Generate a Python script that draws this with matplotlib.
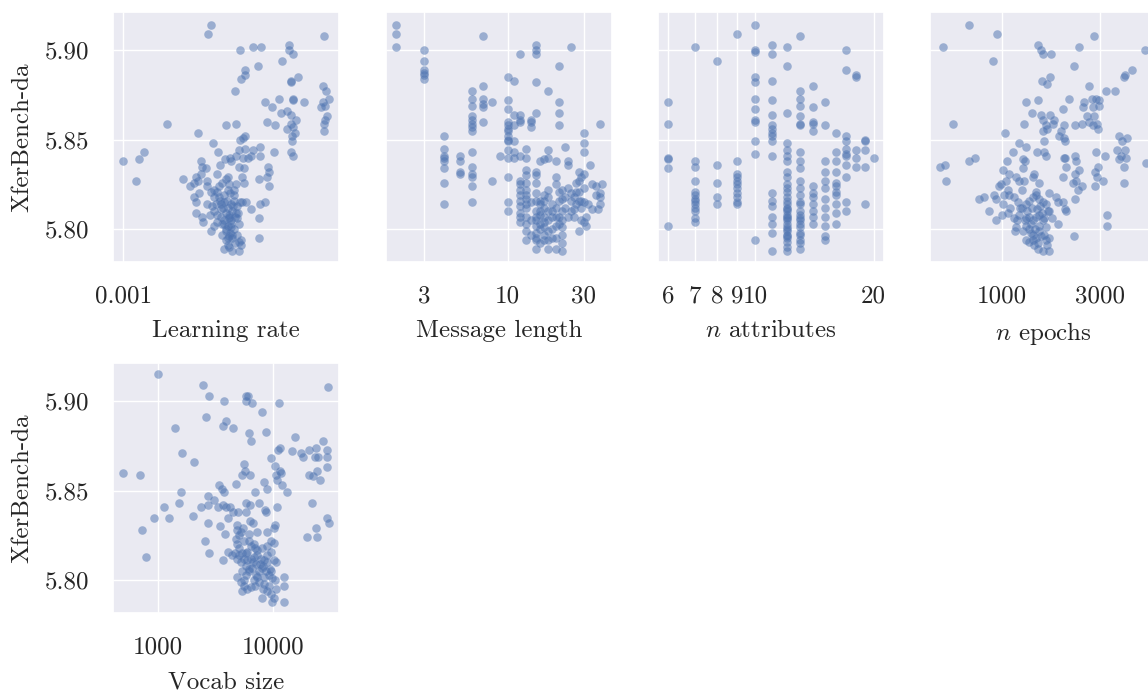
import matplotlib
matplotlib.use("Agg")
import matplotlib.pyplot as plt
import seaborn as sns

# hyperparameter sweep vs XferBench-da score

# learning rate panel
lr = [2.00e-3, 1.96e-3, 4.88e-3, 2.78e-3, 2.96e-3, 3.71e-3, 2.52e-3, 3.71e-3, 3.83e-3, 3.51e-3,
      2.90e-3, 2.62e-3, 2.62e-3, 2.54e-3, 3.98e-3, 3.75e-3, 3.75e-3, 2.41e-3, 3.41e-3, 3.83e-3,
      3.83e-3, 3.07e-3, 3.24e-3, 4.17e-3, 4.84e-3, 4.98e-3, 5.07e-3, 4.84e-3, 4.92e-3, 4.78e-3,
      5.00e-3, 4.91e-3, 4.88e-3, 4.88e-3, 3.49e-3, 3.65e-3, 3.75e-3, 3.91e-3, 3.75e-3, 3.83e-3,
      3.65e-3, 3.88e-3, 3.80e-3, 3.80e-3, 3.75e-3, 3.83e-3, 3.12e-3, 3.31e-3, 1.41e-3, 2.26e-3,
      2.44e-3, 1.81e-3, 2.03e-3, 2.51e-3, 2.62e-3, 2.58e-3, 2.62e-3, 2.50e-3, 2.78e-3, 2.95e-3,
      3.28e-3, 2.95e-3, 2.74e-3, 2.67e-3, 2.58e-3, 2.43e-3, 2.32e-3, 2.24e-3, 2.12e-3, 1.85e-3,
      2.14e-3, 2.34e-3, 1.00e-3, 1.13e-3, 1.18e-3, 1.11e-3, 1.60e-3, 1.69e-3, 1.77e-3, 1.75e-3,
      1.87e-3, 1.92e-3, 1.85e-3, 1.80e-3, 1.94e-3, 2.09e-3, 2.28e-3, 2.56e-3, 2.60e-3, 2.49e-3,
      2.60e-3, 2.92e-3, 3.14e-3, 3.16e-3, 3.12e-3, 3.17e-3, 1.75e-3, 1.78e-3, 1.82e-3, 1.94e-3,
      1.94e-3, 2.00e-3, 2.05e-3, 2.10e-3, 2.13e-3, 2.19e-3, 2.25e-3, 2.31e-3, 2.43e-3, 2.40e-3,
      2.32e-3, 2.22e-3, 2.13e-3, 2.08e-3, 2.02e-3, 2.16e-3, 2.22e-3, 2.28e-3, 2.34e-3, 2.40e-3,
      2.46e-3, 2.56e-3, 2.63e-3, 2.74e-3, 2.95e-3, 3.06e-3, 1.77e-3, 1.87e-3, 1.88e-3, 2.00e-3,
      2.05e-3, 2.10e-3, 2.16e-3, 2.22e-3, 2.28e-3, 2.34e-3, 2.41e-3, 2.49e-3, 2.25e-3, 2.31e-3,
      2.37e-3, 2.46e-3, 2.53e-3, 2.25e-3, 2.28e-3, 2.22e-3, 2.37e-3, 2.50e-3, 2.53e-3, 2.49e-3,
      2.92e-3, 2.92e-3, 2.05e-3, 2.10e-3, 2.16e-3, 2.25e-3, 2.31e-3, 2.37e-3, 2.43e-3, 2.22e-3,
      2.31e-3, 2.34e-3, 2.19e-3, 2.28e-3,
      2.20e-3, 2.30e-3, 2.35e-3, 2.40e-3, 2.45e-3, 2.27e-3, 2.38e-3, 2.33e-3, 2.42e-3, 2.30e-3,
      2.18e-3, 2.26e-3, 2.36e-3, 2.48e-3, 2.52e-3, 2.15e-3, 2.05e-3, 1.98e-3, 2.40e-3, 2.29e-3]
lr_score = [5.914, 5.909, 5.908, 5.902, 5.902, 5.903, 5.900, 5.900, 5.898, 5.894,
            5.891, 5.889, 5.886, 5.884, 5.885, 5.882, 5.883, 5.877, 5.873, 5.873,
            5.872, 5.871, 5.868, 5.871, 5.880, 5.877, 5.873, 5.871, 5.869, 5.868,
            5.863, 5.861, 5.859, 5.855, 5.865, 5.866, 5.864, 5.861, 5.859, 5.857,
            5.856, 5.854, 5.852, 5.849, 5.843, 5.841, 5.860, 5.858, 5.859, 5.858,
            5.859, 5.854, 5.848, 5.850, 5.852, 5.851, 5.845, 5.844, 5.844, 5.846,
            5.843, 5.841, 5.841, 5.840, 5.840, 5.841, 5.840, 5.839, 5.843, 5.838,
            5.836, 5.838, 5.838, 5.839, 5.843, 5.827, 5.828, 5.824, 5.829, 5.826,
            5.835, 5.834, 5.831, 5.827, 5.827, 5.831, 5.829, 5.829, 5.826, 5.835,
            5.834, 5.828, 5.835, 5.832, 5.829, 5.824, 5.818, 5.815, 5.820, 5.814,
            5.824, 5.821, 5.822, 5.821, 5.824, 5.826, 5.828, 5.825, 5.825, 5.819,
            5.820, 5.819, 5.818, 5.814, 5.813, 5.814, 5.815, 5.812, 5.814, 5.816,
            5.813, 5.815, 5.815, 5.811, 5.814, 5.815, 5.809, 5.807, 5.804, 5.799,
            5.802, 5.804, 5.807, 5.805, 5.802, 5.805, 5.807, 5.803, 5.799, 5.796,
            5.797, 5.797, 5.794, 5.794, 5.791, 5.789, 5.788, 5.788, 5.791, 5.793,
            5.806, 5.795, 5.810, 5.808, 5.811, 5.809, 5.808, 5.810, 5.809, 5.803,
            5.807, 5.801, 5.797, 5.795,
            5.812, 5.806, 5.803, 5.800, 5.806, 5.816, 5.813, 5.798, 5.792, 5.790,
            5.803, 5.800, 5.795, 5.809, 5.815, 5.816, 5.818, 5.808, 5.822, 5.822]

# message length panel
msg_len = [2, 2, 2,
           3, 3, 3, 3, 3, 3,
           4, 4, 4, 4, 4, 4, 4, 4,
           5, 5, 5, 5,
           6, 6, 6, 6, 6, 6, 6, 6, 6, 6, 6, 6, 6, 6,
           7, 7, 7, 7, 7, 7,
           8, 8,
           9,
           10, 10, 10, 10, 10, 10, 10, 10, 10, 10, 10, 10, 10, 10, 10,
           11, 11, 11, 11, 11, 11,
           12, 12, 12, 12, 12, 12, 12, 12, 12, 12, 12, 12, 12, 12,
           13, 13, 13, 13, 13, 13, 13, 13, 13, 13, 13, 13,
           14, 14, 14,
           15, 15, 15, 15, 15, 15, 15, 15, 15, 15, 15, 15, 15, 15, 15, 15, 15, 15,
           16, 16, 16, 16, 16,
           17, 17, 17, 17, 17, 17, 17,
           18, 18, 18, 18, 18, 18, 18, 18, 18, 18,
           19, 19, 19,
           20, 20, 20, 20, 20, 20, 20, 20,
           21, 21, 21, 21, 21, 21, 21, 21,
           22, 22, 22, 22, 22, 22, 22, 22,
           23, 23, 23,
           24, 24, 24, 24,
           25, 25, 25, 25,
           26, 26, 26,
           27, 27, 27,
           28, 28, 28, 28, 28,
           29, 29, 29, 29,
           30, 30, 30, 30, 30, 30, 30,
           31, 31,
           32,
           33,
           34, 34,
           36, 36,
           37,
           38, 38, 38, 38,
           39,
           13, 13, 14, 14, 14, 16, 16, 16, 17, 17, 19, 19]
msg_score = [5.914, 5.909, 5.902,
             5.900, 5.894, 5.889, 5.887, 5.886, 5.884,
             5.852, 5.845, 5.841, 5.840, 5.838, 5.834, 5.826, 5.814,
             5.841, 5.838, 5.832, 5.831,
             5.877, 5.873, 5.869, 5.863, 5.861, 5.859, 5.857, 5.855, 5.843, 5.835, 5.831, 5.829, 5.824, 5.815,
             5.908, 5.880, 5.873, 5.870, 5.868, 5.860,
             5.871, 5.827,
             5.841,
             5.885, 5.872, 5.867, 5.860, 5.858, 5.856, 5.855, 5.852, 5.850, 5.849, 5.844, 5.840, 5.829, 5.815, 5.810,
             5.883, 5.864, 5.858, 5.849, 5.843, 5.840,
             5.898, 5.864, 5.861, 5.860, 5.841, 5.827, 5.825, 5.822, 5.819, 5.816, 5.813, 5.809, 5.807, 5.804,
             5.845, 5.840, 5.833, 5.826, 5.822, 5.819, 5.814, 5.812, 5.807, 5.803, 5.799, 5.794,
             5.861, 5.860, 5.857,
             5.903, 5.900, 5.898, 5.882, 5.865, 5.832, 5.830, 5.826, 5.820, 5.816, 5.810, 5.807, 5.805, 5.802, 5.798, 5.795, 5.794, 5.789,
             5.838, 5.816, 5.814, 5.808, 5.803,
             5.839, 5.819, 5.812, 5.807, 5.801, 5.797, 5.794,
             5.877, 5.844, 5.840, 5.822, 5.818, 5.810, 5.805, 5.799, 5.794, 5.789,
             5.814, 5.810, 5.807,
             5.838, 5.829, 5.825, 5.812, 5.807, 5.802, 5.795, 5.789,
             5.891, 5.871, 5.865, 5.858, 5.821, 5.816, 5.807, 5.803,
             5.822, 5.817, 5.810, 5.805, 5.801, 5.797, 5.792, 5.788,
             5.846, 5.818, 5.812,
             5.838, 5.836, 5.823, 5.807,
             5.902, 5.820, 5.816, 5.810,
             5.818, 5.811, 5.807,
             5.826, 5.821, 5.814,
             5.832, 5.827, 5.821, 5.816, 5.799,
             5.829, 5.816, 5.812, 5.805,
             5.854, 5.848, 5.843, 5.831, 5.823, 5.815, 5.804,
             5.807, 5.802,
             5.814,
             5.836,
             5.825, 5.811,
             5.824, 5.819,
             5.811,
             5.859, 5.820, 5.818, 5.814,
             5.825,
             5.830, 5.817, 5.815, 5.805, 5.797, 5.810, 5.800, 5.792, 5.816, 5.804, 5.800, 5.795]

# number of attributes panel
n_attr = [6, 6, 6, 6, 6, 6,
          7, 7, 7, 7, 7, 7, 7, 7, 7, 7, 7, 7, 7,
          8, 8, 8, 8, 8,
          9, 9, 9, 9, 9, 9, 9, 9, 9, 9, 9,
          10, 10, 10, 10, 10, 10, 10, 10, 10, 10, 10, 10,
          11, 11, 11, 11, 11, 11, 11, 11, 11, 11, 11, 11, 11, 11, 11, 11, 11,
          12, 12, 12, 12, 12, 12, 12, 12, 12, 12, 12, 12, 12, 12, 12, 12, 12, 12, 12, 12, 12, 12, 12, 12, 12,
          13, 13, 13, 13, 13, 13, 13, 13, 13, 13, 13, 13, 13, 13, 13, 13, 13, 13, 13, 13, 13,
          14, 14, 14, 14, 14, 14, 14, 14, 14, 14, 14, 14,
          15, 15, 15, 15, 15, 15, 15, 15, 15, 15, 15, 15,
          16, 16, 16, 16, 16, 16, 16, 16, 16, 16, 16,
          17, 17, 17, 17, 17, 17, 17, 17, 17, 17, 17,
          18, 18, 18, 18, 18,
          19, 19, 19, 19, 19,
          20,
          12, 12, 12, 12, 12, 12, 12, 13, 13, 13, 13, 13, 11]
attr_score = [5.871, 5.859, 5.840, 5.839, 5.834, 5.802,
              5.902, 5.838, 5.835, 5.827, 5.821, 5.819, 5.817, 5.816, 5.814, 5.812, 5.810, 5.806, 5.804,
              5.894, 5.836, 5.826, 5.818, 5.814,
              5.909, 5.838, 5.831, 5.829, 5.827, 5.825, 5.823, 5.820, 5.818, 5.815, 5.814,
              5.914, 5.900, 5.899, 5.885, 5.882, 5.873, 5.867, 5.861, 5.860, 5.849, 5.842, 5.794,
              5.903, 5.898, 5.883, 5.872, 5.864, 5.858, 5.856, 5.854, 5.852, 5.849, 5.841, 5.816, 5.813, 5.807, 5.803, 5.798, 5.788,
              5.902, 5.891, 5.865, 5.848, 5.844, 5.841, 5.838, 5.832, 5.829, 5.821, 5.818, 5.816, 5.814, 5.812, 5.810, 5.808, 5.807, 5.805, 5.803, 5.801, 5.799, 5.797, 5.795, 5.793, 5.788,
              5.908, 5.877, 5.873, 5.869, 5.863, 5.859, 5.858, 5.843, 5.838, 5.834, 5.827, 5.823, 5.819, 5.814, 5.810, 5.806, 5.805, 5.801, 5.797, 5.794, 5.789,
              5.880, 5.868, 5.860, 5.859, 5.855, 5.824, 5.820, 5.818, 5.814, 5.810, 5.807, 5.803,
              5.871, 5.858, 5.838, 5.832, 5.827, 5.823, 5.817, 5.812, 5.807, 5.802, 5.796, 5.794,
              5.854, 5.843, 5.838, 5.832, 5.826, 5.824, 5.821, 5.819, 5.814, 5.809, 5.803,
              5.900, 5.889, 5.852, 5.849, 5.845, 5.842, 5.841, 5.836, 5.829, 5.815, 5.810,
              5.886, 5.885, 5.844, 5.840, 5.835,
              5.850, 5.849, 5.844, 5.835, 5.814,
              5.840,
              5.825, 5.823, 5.811, 5.806, 5.800, 5.796, 5.790, 5.815, 5.808, 5.803, 5.798, 5.792, 5.820]

# number of epochs panel
epochs = [693, 942, 514, 1504, 1549, 1591, 1741, 2366, 2800, 5004,
          901, 2254, 3997, 3965, 4338, 1567, 1651, 1715, 2667, 3216,
          3558, 1314, 1498, 2130, 2512, 2483, 2748, 2876, 2985, 2963,
          2769, 1400, 1555, 1715, 1985, 2599, 2820, 2667, 2896, 2769,
          2929, 1579, 1639, 1800, 1767, 1285, 1591, 1651, 1932, 2014,
          2279, 2447, 575, 1038, 1889, 2014, 2037, 1609, 1215, 1304,
          1487, 1597, 1639, 1136, 1270, 1299, 1054, 1261, 736, 693,
          525, 499, 533, 3735, 3878, 4103, 3666, 3804, 3997, 4027,
          3735, 3950, 3965, 5040, 3191, 2876, 2929, 2852, 2896, 3120,
          2852, 2270, 2296, 2037, 1999, 2051, 2384, 2279, 1991, 2213,
          2296, 2339, 2473, 2279, 3276, 3276, 2254, 1011, 1086, 1170,
          1215, 1285, 1046, 989, 963, 1066, 1026, 1086, 1148, 1192,
          1008, 935, 918, 820, 770, 868, 935, 1000, 1066, 1148,
          1215, 1310, 1359, 1411, 1465, 1521, 1579, 1639, 1701, 1670,
          1833, 1868, 1976, 2037, 2051, 1868, 1465, 1411, 1438, 1509,
          1533, 1310, 1359, 1385, 1411, 1465, 1521, 1579, 1639, 1310,
          1261, 1170, 1162, 1310, 1359, 1438, 1493, 1579, 1701, 1639,
          1701, 1609, 1521, 1549, 1411, 1465,
          1250, 1330, 1400, 1480, 1560, 1450, 1380, 1520, 1600, 1290,
          1230, 1100, 1180, 1350, 1420, 1500, 1650, 1700, 1750, 1250]
epoch_score = [5.914, 5.909, 5.902, 5.903, 5.900, 5.898, 5.898, 5.902, 5.908, 5.900,
               5.894, 5.891, 5.886, 5.885, 5.889, 5.883, 5.881, 5.885, 5.880, 5.877,
               5.877, 5.871, 5.872, 5.873, 5.871, 5.868, 5.873, 5.873, 5.872, 5.869,
               5.868, 5.865, 5.864, 5.864, 5.867, 5.863, 5.863, 5.860, 5.859, 5.858,
               5.856, 5.861, 5.858, 5.861, 5.859, 5.859, 5.855, 5.856, 5.855, 5.858,
               5.858, 5.859, 5.859, 5.854, 5.852, 5.851, 5.849, 5.849, 5.848, 5.846,
               5.843, 5.843, 5.841, 5.843, 5.839, 5.838, 5.838, 5.834, 5.840, 5.838,
               5.836, 5.835, 5.827, 5.852, 5.849, 5.851, 5.844, 5.841, 5.844, 5.840,
               5.839, 5.835, 5.826, 5.837, 5.841, 5.843, 5.835, 5.832, 5.829, 5.827,
               5.824, 5.841, 5.838, 5.840, 5.840, 5.835, 5.833, 5.831, 5.829, 5.826,
               5.827, 5.822, 5.824, 5.817, 5.808, 5.802, 5.796, 5.833, 5.831, 5.829,
               5.827, 5.827, 5.827, 5.825, 5.824, 5.822, 5.819, 5.819, 5.818, 5.815,
               5.814, 5.817, 5.819, 5.818, 5.817, 5.810, 5.805, 5.808, 5.809, 5.806,
               5.808, 5.814, 5.816, 5.818, 5.819, 5.817, 5.815, 5.814, 5.820, 5.810,
               5.818, 5.815, 5.815, 5.811, 5.810, 5.803, 5.821, 5.829, 5.831, 5.826,
               5.813, 5.806, 5.807, 5.803, 5.805, 5.807, 5.808, 5.805, 5.801, 5.802,
               5.799, 5.801, 5.799, 5.794, 5.793, 5.791, 5.789, 5.788, 5.788, 5.794,
               5.795, 5.797, 5.799, 5.796, 5.797, 5.795,
               5.812, 5.810, 5.812, 5.811, 5.809, 5.800, 5.798, 5.802, 5.806, 5.805,
               5.812, 5.812, 5.805, 5.800, 5.794, 5.792, 5.791, 5.810, 5.806, 5.822]

# vocab size panel
vocab = [1000, 2491, 29580, 2770, 3707, 5774, 6050, 5741, 6590, 11270,
         7930, 2610, 3880, 3656, 4520, 1402, 6125, 6340, 8590, 15280,
         26980, 11040, 11410, 14390, 17420, 17900, 20420, 23330, 28820, 22710,
         24270, 28820, 1610, 2044, 506, 700, 5550, 5660, 5334, 6294,
         4735, 9610, 10330, 11410, 10620, 11570, 10820, 11800, 13030, 8360,
         8870, 20420, 23940, 22130, 25250, 28820, 3400, 3586, 3707, 1600,
         1141, 1517, 936, 1252, 2030, 733, 793, 2364, 2699, 2734,
         3080, 3334, 3683, 3880, 4230, 4036, 4520, 4925, 5774, 6294,
         5741, 6995, 7570, 8420, 8705, 10690, 21400, 28820, 29990, 23330,
         19640, 23940, 2699, 3446, 3805, 2558, 2770, 3683, 6294, 6635,
         4800, 4893, 5058, 4735, 4893, 5230, 5510, 6170, 7280, 8870,
         10130, 10400, 9490, 10130, 8870, 8040, 7280, 6810, 6380, 5890,
         5400, 5058, 4640, 4065, 4432, 5590, 5970, 6380, 6810, 7280,
         7780, 8310, 8870, 9490, 10130, 10470, 5774, 6170, 6590, 7040,
         7520, 8040, 8590, 9180, 9800, 5400, 4893, 5230, 5590, 5970,
         6380, 6810, 8310, 8870, 9490, 10130, 12360, 12360, 12360, 9800,
         8040, 5590, 7280, 8310, 9490, 5774, 5400,
         5200, 5800, 6100, 6600, 7100, 7600, 8200, 8800, 9300, 6900,
         7500, 8100, 9100, 10300, 10600, 5000, 5600, 4800, 6200, 7000]
vocab_score = [5.915, 5.909, 5.908, 5.903, 5.900, 5.903, 5.903, 5.900, 5.899, 5.899,
               5.894, 5.891, 5.889, 5.886, 5.885, 5.885, 5.882, 5.878, 5.883, 5.880,
               5.878, 5.873, 5.874, 5.872, 5.871, 5.869, 5.873, 5.874, 5.873, 5.869,
               5.869, 5.869, 5.871, 5.866, 5.860, 5.859, 5.865, 5.861, 5.859, 5.859,
               5.854, 5.868, 5.864, 5.861, 5.859, 5.860, 5.856, 5.853, 5.849, 5.855,
               5.851, 5.859, 5.861, 5.858, 5.856, 5.863, 5.853, 5.851, 5.849, 5.849,
               5.841, 5.843, 5.835, 5.835, 5.836, 5.828, 5.813, 5.841, 5.842, 5.847,
               5.845, 5.841, 5.842, 5.841, 5.841, 5.835, 5.838, 5.838, 5.843, 5.842,
               5.838, 5.849, 5.843, 5.839, 5.838, 5.841, 5.843, 5.835, 5.832, 5.829,
               5.824, 5.824, 5.832, 5.830, 5.826, 5.822, 5.815, 5.811, 5.833, 5.832,
               5.831, 5.828, 5.825, 5.823, 5.820, 5.827, 5.829, 5.826, 5.827, 5.827,
               5.829, 5.831, 5.822, 5.821, 5.819, 5.818, 5.817, 5.820, 5.819, 5.816,
               5.815, 5.814, 5.815, 5.816, 5.814, 5.812, 5.811, 5.812, 5.813, 5.814,
               5.812, 5.811, 5.814, 5.816, 5.811, 5.810, 5.808, 5.806, 5.807, 5.809,
               5.805, 5.807, 5.805, 5.803, 5.801, 5.805, 5.802, 5.799, 5.797, 5.795,
               5.796, 5.800, 5.798, 5.794, 5.792, 5.790, 5.802, 5.797, 5.788, 5.788,
               5.790, 5.800, 5.802, 5.802, 5.805, 5.803, 5.794,
               5.810, 5.815, 5.805, 5.810, 5.803, 5.809, 5.808, 5.810, 5.806, 5.797,
               5.799, 5.795, 5.797, 5.800, 5.795, 5.818, 5.822, 5.812, 5.822, 5.818]

panels = [
    (lr, lr_score, "Learning rate", [0.001], ["0.001"]),
    (msg_len, msg_score, "Message length", [3, 10, 30], ["3", "10", "30"]),
    (n_attr, attr_score, "$n$ attributes", [6, 7, 8, 9, 10, 20],
     ["6", "7", "8", "9", "10", "20"]),
    (epochs, epoch_score, "$n$ epochs", [1000, 3000], ["1000", "3000"]),
    (vocab, vocab_score, "Vocab size", [1000, 10000], ["1000", "10000"]),
]

sns.set_theme(style="darkgrid")
plt.rcParams["font.family"] = "serif"
plt.rcParams["font.serif"] = ["cmr10"]
plt.rcParams["mathtext.fontset"] = "cm"
plt.rcParams["axes.formatter.use_mathtext"] = True

FS = 18
W, H = 1148, 694
fig = plt.figure(figsize=(W / 100, H / 100), dpi=100)
corners = [(113, 12), (386, 12), (658, 12), (930, 12), (113, 363)]

axes = []
for i, (x, y, label, ticks, ticklabels) in enumerate(panels):
    x0, y0 = corners[i]
    rect = [x0 / W, 1 - (y0 + 250) / H, 226 / W, 250 / H]
    ax = fig.add_axes(rect, sharey=axes[0] if axes else None)
    ax.scatter(x, y, s=38, color="#4C72B0", alpha=0.5, linewidths=0)
    ax.set_xscale("log")
    ax.set_xticks(ticks, labels=ticklabels)
    ax.set_xticks([], minor=True)
    ax.set_xlabel(label, fontsize=FS, labelpad=9)
    ax.tick_params(labelsize=FS, pad=17, length=0)
    if i in (0, 4):
        ax.set_ylabel("XferBench-da", fontsize=FS, labelpad=8)
    else:
        ax.tick_params(labelleft=False)
    axes.append(ax)

axes[0].set_yticks([5.80, 5.85, 5.90], labels=["5.80", "5.85", "5.90"])

fig.savefig("out.png", dpi=100)
